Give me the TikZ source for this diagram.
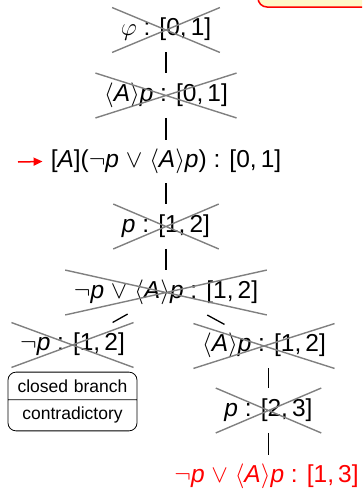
\documentclass[tikz,border=0pt]{standalone}
\usepackage{fontspec}
\setmainfont{Liberation Sans}
\usetikzlibrary{shapes.misc,shapes.multipart,arrows.meta}
\newcommand\vp{\textit{p}}
\newcommand\vA{\textit{A}}
\newcommand\dia{$\langle$\vA$\rangle$}
\newcommand\orr{\;$\vee$\;}
\newcommand\nt{$\neg$}
\definecolor{crossgray}{RGB}{128,128,128}
\definecolor{notefill}{RGB}{255,248,200}
\tikzset{
  lab/.style={font=\fontsize{24.5}{28}\selectfont, inner xsep=8pt, inner ysep=10.5pt,
              text height=17pt, text depth=5.5pt, anchor=center},
  crossed/.style={lab, cross out, draw=crossgray, line width=1.4pt},
  link/.style={draw=black, line width=1.3pt},
  closedbox/.style={rectangle split, rectangle split parts=2, draw, rounded corners=8pt,
              line width=0.8pt, font=\fontsize{17.5}{20}\selectfont, minimum width=129pt,
              text width=113pt, align=center, inner ysep=7pt}
}
\begin{document}
\begin{tikzpicture}[x=1pt,y=-1pt]
\useasboundingbox (0,0) rectangle (362,490);
\begin{scope}
\clip (0,0) rectangle (362,490);
% note box peeking in at the top right
\draw[red, line width=1.5pt, fill=notefill, rounded corners=9pt] (258,-40) rectangle (420,7);

\node[crossed] (n1) at (166,30) {$\varphi$ : [0,\,1]};
\node[crossed] (n2) at (166,95.5) {\dia\vp{} : [0,\,1]};
\node[lab] (n3) at (166,161.5) {[\vA](\nt\vp\orr\dia\vp) : [0,\,1]};
\node[crossed] (n4) at (166,226.5) {\vp{} : [1,\,2]};
\node[crossed] (n5) at (166,292.5) {\nt\vp\orr\dia\vp{} : [1,\,2]};
\node[crossed] (n6) at (72.5,345) {\nt\vp{} : [1,\,2]};
\node[crossed] (n7) at (264,346) {\dia\vp{} : [1,\,2]};
\node[crossed] (n8) at (268.5,410.5) {\vp{} : [2,\,3]};
\node[lab, text=red] (n9) at (266.5,476.5) {\nt\vp\orr\dia\vp{} : [1,\,3]};

\node[closedbox] (cb) at (72.5,401.5) {closed branch\nodepart{two}contradictory};

\coordinate (mark) at (18,162);
\draw[red, line width=1.5pt, -{Triangle[length=9pt,width=8pt]}] (mark) -- (n3.west);

\path[link] (n1.south) -- (n2.north);
\path[link] (n2.south) -- (n3.north);
\path[link] (n3.south) -- (n4.north);
\path[link] (n4.south) -- (n5.north);
\path[link, shorten <=44pt, shorten >=46pt] (n5.center) -- (n6.center);
\path[link, shorten <=47pt, shorten >=45pt] (n5.center) -- (n7.center);
\path[link] (n7.south -| n8.north) -- (n8.north);
\path[link] (n8.south) -- (n8.south |- n9.north);
\end{scope}
\end{tikzpicture}
\end{document}
